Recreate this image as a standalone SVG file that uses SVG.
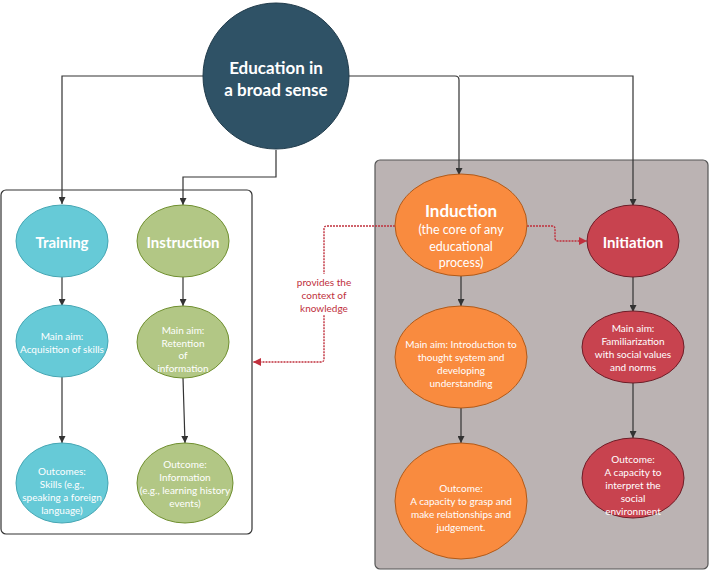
<svg xmlns="http://www.w3.org/2000/svg" width="712" height="570" viewBox="0 0 712 570">
<defs>
<marker id="ah" viewBox="0 0 10 10" refX="10" refY="5" markerWidth="7" markerHeight="7" orient="auto" markerUnits="userSpaceOnUse">
<path d="M0,0 L10,5 L0,10 z" fill="#333"/>
</marker>
<marker id="ahr" viewBox="0 0 10 10" refX="10" refY="5" markerWidth="8" markerHeight="8" orient="auto" markerUnits="userSpaceOnUse">
<path d="M0,0 L10,5 L0,10 z" fill="#c0303d"/>
</marker>
</defs>
<style>
text{font-family:Lato,"Open Sans","Liberation Sans",sans-serif;fill:#fff;text-anchor:middle;dominant-baseline:central}
.t{font-size:15px;font-weight:bold}
.s{font-size:10px}
.conn{fill:none;stroke:#333;stroke-width:1.2}
.red{fill:none;stroke:#c0303d;stroke-width:1.4;stroke-dasharray:2 1}
.lbl{fill:#c0303d;font-size:10px}
.tr{fill:#66cad7;stroke:#45a6b3;stroke-width:1}
.in{fill:#b2c785;stroke:#6f8f2f;stroke-width:1}
.id{fill:#f98b3f;stroke:#b05a1a;stroke-width:1}
.it{fill:#c8434f;stroke:#6e1d27;stroke-width:1}
</style>
<rect id="left-box" x="1" y="190" width="251" height="344" rx="5" fill="#fff" stroke="#333" stroke-width="1.2"/>
<rect id="right-box" x="375" y="160" width="333" height="409" rx="5" fill="#bbb3b3" stroke="#555" stroke-width="1.2"/>
<g id="connectors">
<path class="conn" d="M203,76 H62 V204" marker-end="url(#ah)"/>
<path class="conn" d="M276,150 V177 H183 V205" marker-end="url(#ah)"/>
<path class="conn" d="M349,76 H455 Q459,76 459,80 V175" marker-end="url(#ah)"/>
<path class="conn" d="M459,76 H633 V206" stroke="#555" marker-end="url(#ah)"/>
<path class="conn" d="M62,277 V306" marker-end="url(#ah)"/>
<path class="conn" d="M183,277 V306" marker-end="url(#ah)"/>
<path class="conn" d="M62,377 V443" marker-end="url(#ah)"/>
<path class="conn" d="M183,378 L185,443" marker-end="url(#ah)"/>
<path class="conn" d="M461,276 V306" marker-end="url(#ah)"/>
<path class="conn" d="M461,408 V443" marker-end="url(#ah)"/>
<path class="conn" d="M633,277 V312" marker-end="url(#ah)"/>
<path class="conn" d="M633,383 V438" marker-end="url(#ah)"/>
<path class="red" d="M395,226 H327 Q324,226 324,229 V359 Q324,362 321,362 H253" marker-end="url(#ahr)"/>
<path class="red" d="M527,226 H552 Q555,226 555,229 V238 Q555,241 558,241 H587" marker-end="url(#ahr)"/>
<rect x="294" y="274" width="60" height="41" fill="#fff"/>
<text class="lbl" x="324" y="282">provides the</text>
<text class="lbl" x="324" y="295">context of</text>
<text class="lbl" x="324" y="308">knowledge</text>
</g>
<g id="education">
<circle cx="276" cy="76" r="73" fill="#2f5266" stroke="#1f3a4a" stroke-width="1"/>
<text x="276" y="67" style="font-size:17px;font-weight:bold">Education in</text>
<text x="276" y="89" style="font-size:17px;font-weight:bold">a broad sense</text>
</g>
<g id="training">
<ellipse class="tr" cx="62" cy="241" rx="46" ry="36"/>
<text class="t" x="62" y="242">Training</text>
</g>
<g id="instruction">
<ellipse class="in" cx="183" cy="241" rx="46" ry="36"/>
<text class="t" x="183" y="242">Instruction</text>
</g>
<g id="training-aim">
<ellipse class="tr" cx="62" cy="341" rx="46" ry="36"/>
<text class="s" x="62" y="336">Main aim:</text>
<text class="s" x="62" y="349">Acquisition of skills</text>
</g>
<g id="instruction-aim">
<ellipse class="in" cx="183" cy="342" rx="46" ry="36"/>
<text class="s" x="183" y="330">Main aim:</text>
<text class="s" x="183" y="343">Retention</text>
<text class="s" x="183" y="355">of</text>
<text class="s" x="183" y="368">information</text>
</g>
<g id="training-outcome">
<ellipse class="tr" cx="62" cy="483" rx="46" ry="40"/>
<text class="s" x="62" y="471">Outcomes:</text>
<text class="s" x="62" y="484">Skills (e.g.,</text>
<text class="s" x="62" y="497">speaking a foreign</text>
<text class="s" x="62" y="510">language)</text>
</g>
<g id="instruction-outcome">
<ellipse class="in" cx="185" cy="483" rx="48" ry="40"/>
<text class="s" x="185" y="464">Outcome:</text>
<text class="s" x="185" y="477">Information</text>
<text class="s" x="185" y="490">(e.g., learning history</text>
<text class="s" x="185" y="503">events)</text>
</g>
<g id="induction">
<ellipse class="id" cx="461" cy="225" rx="66" ry="51"/>
<text x="461" y="210" style="font-size:17px;font-weight:bold">Induction</text>
<text x="461" y="229" style="font-size:12.5px">(the core of any</text>
<text x="461" y="246" style="font-size:12.5px">educational</text>
<text x="461" y="262" style="font-size:12.5px">process)</text>
</g>
<g id="initiation">
<ellipse class="it" cx="633" cy="241" rx="46" ry="36"/>
<text class="t" x="633" y="242">Initiation</text>
</g>
<g id="induction-aim">
<ellipse class="id" cx="461" cy="357" rx="66" ry="51"/>
<text class="s" x="461" y="344">Main aim: Introduction to</text>
<text class="s" x="461" y="357">thought system and</text>
<text class="s" x="461" y="370">developing</text>
<text class="s" x="461" y="383">understanding</text>
</g>
<g id="initiation-aim">
<ellipse class="it" cx="633" cy="347" rx="51" ry="36"/>
<text class="s" x="633" y="328">Main aim:</text>
<text class="s" x="633" y="341">Familiarization</text>
<text class="s" x="633" y="354">with social values</text>
<text class="s" x="633" y="367">and norms</text>
</g>
<g id="induction-outcome">
<ellipse class="id" cx="461" cy="501" rx="66" ry="58"/>
<text class="s" x="461" y="488">Outcome:</text>
<text class="s" x="461" y="501">A capacity to grasp and</text>
<text class="s" x="461" y="514">make relationships and</text>
<text class="s" x="461" y="527">judgement.</text>
</g>
<g id="initiation-outcome">
<ellipse class="it" cx="633" cy="478" rx="51" ry="40"/>
<text class="s" x="633" y="459">Outcome:</text>
<text class="s" x="633" y="472">A capacity to</text>
<text class="s" x="633" y="485">interpret the</text>
<text class="s" x="633" y="498">social</text>
<text class="s" x="633" y="511">environment</text>
</g>
</svg>
